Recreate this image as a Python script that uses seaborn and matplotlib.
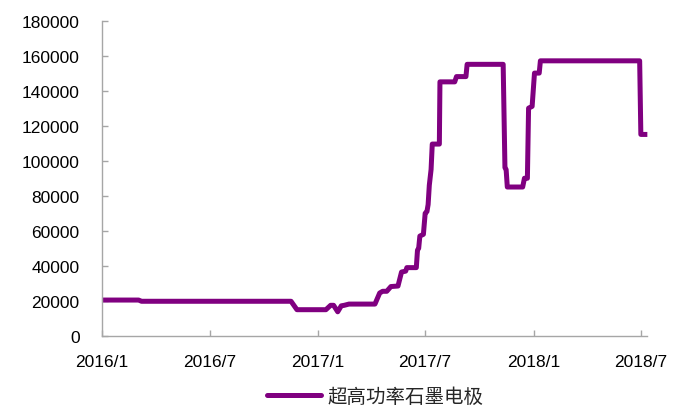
import matplotlib
matplotlib.use("Agg")
import matplotlib.pyplot as plt
import pandas as pd
import seaborn as sns

# ---------------------------
# DATA
# ---------------------------
dates = [
    "2016-01-01", "2016-03-03", "2016-03-08", "2016-11-16", "2016-11-26",
    "2017-01-14", "2017-01-22", "2017-01-27", "2017-02-03", "2017-02-09",
    "2017-02-14", "2017-02-22", "2017-04-07", "2017-04-15", "2017-04-20",
    "2017-04-27", "2017-05-04", "2017-05-16", "2017-05-22", "2017-05-29",
    "2017-05-31", "2017-06-16", "2017-06-18", "2017-06-20", "2017-06-22",
    "2017-06-28", "2017-07-01", "2017-07-04", "2017-07-06", "2017-07-08",
    "2017-07-11", "2017-07-13", "2017-07-25", "2017-07-26", "2017-08-20",
    "2017-08-23", "2017-09-08", "2017-09-10", "2017-11-10", "2017-11-13",
    "2017-11-15", "2017-11-17", "2017-12-13", "2017-12-16", "2017-12-21",
    "2017-12-23", "2017-12-29", "2018-01-02", "2018-01-10", "2018-01-12",
    "2018-06-29", "2018-07-01", "2018-07-12",
]
prices = [
    20500, 20500, 19800, 19800, 15000,
    15000, 17500, 17500, 13800, 17200,
    17500, 18200, 18200, 24500, 25500,
    25500, 28200, 28500, 36500, 37000,
    39000, 39000, 49000, 50000, 57000,
    58000, 70000, 71000, 75000, 86000,
    95000, 109500, 109500, 145000, 145000,
    148000, 148000, 155000, 155000, 96000,
    95000, 85000, 85000, 90000, 90000,
    130000, 131000, 150000, 150000, 157000,
    157000, 115000, 115000,
]
series_name = "超高功率石墨电极"
x_ticks = ["2016-01-01", "2016-07-01", "2017-01-01", "2017-07-01", "2018-01-01", "2018-07-01"]
x_labels = ["2016/1", "2016/7", "2017/1", "2017/7", "2018/1", "2018/7"]
y_ticks = list(range(0, 180001, 20000))

df = pd.DataFrame({"date": pd.to_datetime(dates), "price": prices, "series": series_name})

# ---------------------------
# STYLE
# ---------------------------
sns.set_style("white")
plt.rcParams["font.family"] = ["Liberation Sans", "Noto Sans CJK SC", "DejaVu Sans"]

fig = plt.figure(figsize=(6.73, 4.06), dpi=100)
ax = fig.add_axes([0.1515, 0.170, 0.8095, 0.777])

sns.lineplot(data=df, x="date", y="price", hue="series", palette=["#800080"],
             linewidth=3.6, ax=ax, legend=False, solid_capstyle="butt")
ax.lines[0].set_clip_on(False)

ax.set_xlim(pd.Timestamp("2016-01-01"), pd.Timestamp("2018-07-11"))
ax.set_ylim(0, 180000)
ax.set_xticks(pd.to_datetime(x_ticks))
ax.set_xticklabels(x_labels)
ax.set_yticks(y_ticks)
ax.set_yticklabels([str(v) for v in y_ticks])
ax.set_xlabel("")
ax.set_ylabel("")

for side in ["top", "right"]:
    ax.spines[side].set_visible(False)
for side in ["left", "bottom"]:
    ax.spines[side].set_color("#A6A6A6")
    ax.spines[side].set_linewidth(1.0)

# inward ticks on both axes
ax.tick_params(axis="both", direction="in", length=4, width=1.0, color="#A6A6A6",
               labelsize=12.5, labelcolor="black", left=True, bottom=True)
ax.tick_params(axis="x", pad=13)
ax.tick_params(axis="y", pad=16)

# legend below the plot
handle = plt.Line2D([], [], color="#800080", linewidth=3.6, solid_capstyle="round")
fig.legend([handle], [series_name], loc="center", bbox_to_anchor=(375 / 673, 1 - 397 / 406),
           frameon=False, handlelength=2.8, handletextpad=0.3,
           prop={"family": ["Noto Sans CJK SC", "DejaVu Sans"], "size": 14})

fig.savefig("out.png", dpi=100)
